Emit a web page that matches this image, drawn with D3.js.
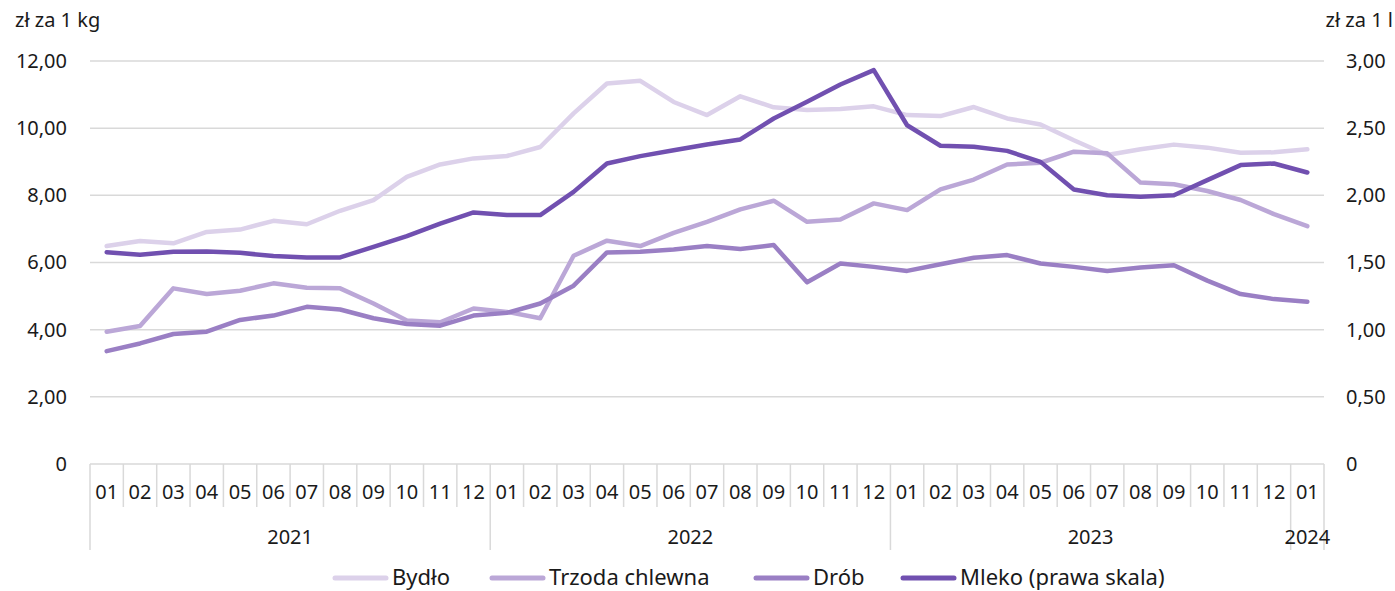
<!DOCTYPE html>
<html><head><meta charset="utf-8">
<script src="https://cdn.jsdelivr.net/npm/d3@7"></script>
<style>
html,body{margin:0;padding:0;background:#fff;}
svg text{font-family:"Noto Sans","Open Sans",sans-serif;fill:#1a1a1a;}
</style></head>
<body><svg id="c" width="1395" height="591"></svg>
<script>
const months = ["01","02","03","04","05","06","07","08","09","10","11","12",
  "01","02","03","04","05","06","07","08","09","10","11","12",
  "01","02","03","04","05","06","07","08","09","10","11","12","01"];
const years = [{label:"2021",start:0,end:12},{label:"2022",start:12,end:24},{label:"2023",start:24,end:36},{label:"2024",start:36,end:37}];
const bydlo = [6.49,6.64,6.57,6.91,6.98,7.24,7.14,7.54,7.86,8.55,8.92,9.10,
  9.17,9.44,10.44,11.33,11.41,10.78,10.39,10.95,10.62,10.54,10.57,10.65,
  10.39,10.36,10.63,10.29,10.11,9.64,9.20,9.37,9.51,9.42,9.27,9.28,9.37];
const trzoda = [3.94,4.11,5.23,5.06,5.16,5.38,5.25,5.23,4.78,4.27,4.22,4.63,
  4.53,4.34,6.20,6.65,6.49,6.88,7.21,7.58,7.84,7.21,7.28,7.76,
  7.56,8.18,8.47,8.92,8.97,9.30,9.25,8.38,8.33,8.13,7.86,7.44,7.08];
const drob = [3.36,3.59,3.87,3.94,4.29,4.42,4.68,4.60,4.34,4.17,4.12,4.42,
  4.50,4.78,5.31,6.30,6.32,6.39,6.49,6.40,6.52,5.41,5.97,5.87,
  5.75,5.95,6.14,6.22,5.97,5.87,5.75,5.85,5.92,5.46,5.06,4.91,4.83];
const mleko = [1.577,1.557,1.580,1.582,1.572,1.548,1.538,1.538,1.617,1.696,1.790,1.873,
  1.853,1.853,2.026,2.237,2.292,2.336,2.379,2.416,2.572,2.696,2.825,2.932,
  2.522,2.369,2.361,2.331,2.249,2.044,2.001,1.989,2.001,2.113,2.225,2.237,2.170];
const leftTicks = [0,2,4,6,8,10,12];
const rightTicks = [0,0.5,1,1.5,2,2.5,3];
const seriesNames = ["Bydło","Trzoda chlewna","Drób","Mleko (prawa skala)"];
const colors = ["#dcd1ea","#bba7d7","#9a7fc4","#7150b0"];

const FS = 20, LFS = 22;
const svg = d3.select("#c");
const L = 90, R = 1324, T = 61, B = 464;
const x = d3.scaleBand().domain(d3.range(months.length)).range([L, R]).padding(0);
const yL = d3.scaleLinear().domain([0,12]).range([B, T]);
const yR = d3.scaleLinear().domain([0,3]).range([B, T]);
const fmt = v => v === 0 ? "0" : d3.format(".2f")(v).replace(".", ",");

// gridlines
svg.append("g").selectAll("line").data(leftTicks.filter(d=>d>0)).join("line")
  .attr("x1", L).attr("x2", R).attr("y1", d=>yL(d)).attr("y2", d=>yL(d))
  .attr("stroke","#d9d9d9").attr("stroke-width",1.5);

// left axis labels
const gl = svg.append("g").attr("transform",`translate(67,0)`)
  .call(d3.axisLeft(yL).tickValues(leftTicks).tickFormat(fmt).tickSize(0).tickPadding(0));
gl.select(".domain").remove();
gl.selectAll("text").attr("font-size",FS).attr("fill","#1a1a1a").style("font-family",'"Noto Sans","Open Sans",sans-serif');

// right axis labels
const gr = svg.append("g").attr("transform",`translate(1346,0)`)
  .call(d3.axisRight(yR).tickValues(rightTicks).tickFormat(fmt).tickSize(0).tickPadding(0));
gr.select(".domain").remove();
gr.selectAll("text").attr("font-size",FS).attr("fill","#1a1a1a").style("font-family",'"Noto Sans","Open Sans",sans-serif');

// axis titles
svg.append("text").attr("x",15).attr("y",27).attr("font-size",FS).text("zł za 1 kg");
svg.append("text").attr("x",1393).attr("y",27).attr("font-size",FS).attr("text-anchor","end").text("zł za 1 l");

// x axis
const gx = svg.append("g");
gx.append("line").attr("x1",L).attr("x2",R).attr("y1",B).attr("y2",B).attr("stroke","#d9d9d9").attr("stroke-width",1.5);
const bounds = d3.range(months.length+1);
const yearBounds = new Set([0,12,24,36,37]);
gx.selectAll("line.sep").data(bounds).join("line").attr("class","sep")
  .attr("x1", i => i===months.length ? R : x(i)).attr("x2", i => i===months.length ? R : x(i))
  .attr("y1", B).attr("y2", i => yearBounds.has(i) ? 550 : 507)
  .attr("stroke","#d9d9d9").attr("stroke-width",1.5);
gx.selectAll("text.m").data(months).join("text").attr("class","m")
  .attr("x",(d,i)=>x(i)+x.bandwidth()/2).attr("y",492).attr("dy","0.35em")
  .attr("text-anchor","middle").attr("font-size",FS).text(d=>d);
gx.selectAll("text.yr").data(years).join("text").attr("class","yr")
  .attr("x",d=>(x(d.start)+ (d.end===months.length?R:x(d.end)))/2).attr("y",537).attr("dy","0.35em")
  .attr("text-anchor","middle").attr("font-size",FS).text(d=>d.label);

// lines
const lineL = d3.line().x((d,i)=>x(i)+x.bandwidth()/2).y(d=>yL(d));
const lineR = d3.line().x((d,i)=>x(i)+x.bandwidth()/2).y(d=>yR(d));
const data = [bydlo, trzoda, drob];
data.forEach((s,k)=>{
  svg.append("path").datum(s).attr("d",lineL).attr("fill","none")
    .attr("stroke",colors[k]).attr("stroke-width",4.5).attr("stroke-linejoin","round").attr("stroke-linecap","round");
});
svg.append("path").datum(mleko).attr("d",lineR).attr("fill","none")
  .attr("stroke",colors[3]).attr("stroke-width",4.5).attr("stroke-linejoin","round").attr("stroke-linecap","round");

// legend
const legX = [333,490,754,901];
const lg = svg.append("g");
seriesNames.forEach((n,k)=>{
  lg.append("line").attr("x1",legX[k]+2).attr("x2",legX[k]+53).attr("y1",578).attr("y2",578)
    .attr("stroke",colors[k]).attr("stroke-width",5).attr("stroke-linecap","round");
  lg.append("text").attr("x",legX[k]+59).attr("y",585).attr("font-size",LFS).text(n);
});
</script></body></html>
